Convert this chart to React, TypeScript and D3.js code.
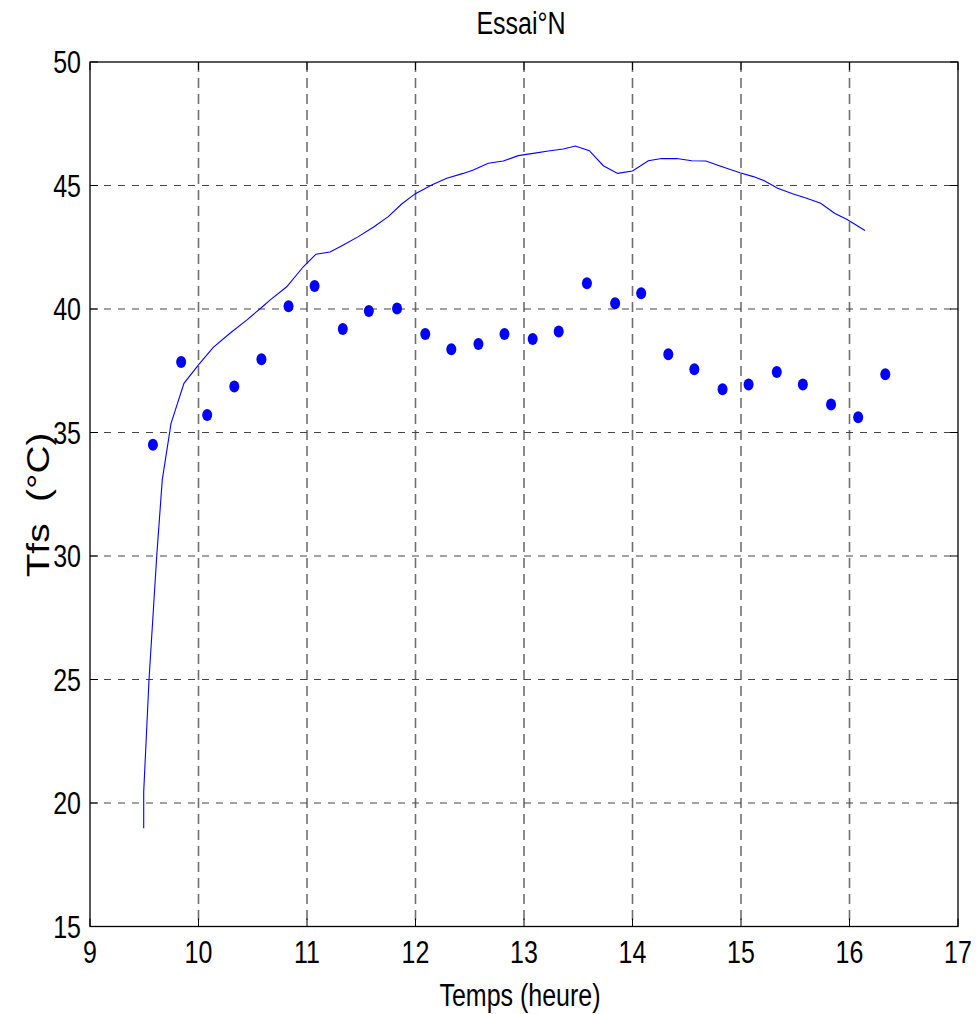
import * as d3 from 'd3';
import React, { useEffect, useRef } from 'react';

// measured points (heure, °C)
const pointTime = [9.58, 9.84, 10.08, 10.33, 10.58, 10.83, 11.07, 11.33, 11.57, 11.83, 12.09, 12.33, 12.58, 12.82,
    13.08, 13.32, 13.58, 13.84, 14.08, 14.33, 14.57, 14.83, 15.07, 15.33, 15.57, 15.83, 16.08, 16.33];
const pointTfs = [34.5, 37.85, 35.71, 36.86, 37.97, 40.11, 40.93, 39.19, 39.92, 40.02, 38.99, 38.37, 38.58, 38.99,
    38.79, 39.09, 41.04, 40.23, 40.64, 38.17, 37.56, 36.75, 36.94, 37.45, 36.94, 36.13, 35.62, 37.36];

// simulated curve
const curveTime = [9.495, 9.495, 9.544, 9.615, 9.666, 9.747, 9.866, 9.998, 10.136, 10.29, 10.444, 10.597, 10.659,
    10.813, 10.966, 11.083, 11.212, 11.335, 11.473, 11.611, 11.749, 11.873, 11.995, 12.149, 12.288, 12.44, 12.533,
    12.671, 12.809, 12.947, 13.086, 13.224, 13.362, 13.473, 13.602, 13.731, 13.863, 14.0, 14.146, 14.269, 14.407,
    14.546, 14.677, 14.806, 14.99, 15.113, 15.215, 15.338, 15.482, 15.605, 15.734, 15.866, 15.974, 16.143];
const curveTfs = [18.98, 20.45, 25.0, 30.0, 33.08, 35.37, 36.99, 37.73, 38.45, 39.02, 39.55, 40.12, 40.36,
    40.9, 41.71, 42.22, 42.31, 42.59, 42.93, 43.31, 43.74, 44.25, 44.66, 45.02, 45.29, 45.49, 45.63,
    45.9, 45.99, 46.21, 46.3, 46.4, 46.48, 46.6, 46.41, 45.8, 45.49, 45.59, 46.0, 46.09, 46.09,
    46.0, 45.99, 45.79, 45.52, 45.36, 45.19, 44.89, 44.66, 44.48, 44.28, 43.87, 43.63, 43.18];

const xTicks = [9, 10, 11, 12, 13, 14, 15, 16, 17];
const yTicks = [15, 20, 25, 30, 35, 40, 45, 50];

const titleText = 'Essai°N';
const xLabel = 'Temps (heure)';
const yLabel = 'Tfs  (°C)';

function App() {
    const ref = useRef(null);

    useEffect(() => {
        const svg = d3.select(ref.current);
        svg.selectAll('*').remove();

        const left = 90, right = 958, top = 62, bottom = 926.5;
        const font = '"Liberation Sans", Arial, sans-serif';
        const fs = 25, sy = 1.25;

        const x = d3.scaleLinear().domain([9, 17]).range([left, right]);
        const y = d3.scaleLinear().domain([15, 50]).range([bottom, top]);

        svg.append('rect')
            .attr('width', 976).attr('height', 1014).attr('fill', '#fff');

        // grid
        svg.append('g').selectAll('line')
            .data(xTicks.slice(1, -1))
            .join('line')
            .attr('x1', d => x(d)).attr('x2', d => x(d))
            .attr('y1', top).attr('y2', bottom)
            .attr('stroke', '#6f6f6f').attr('stroke-width', 1.6)
            .attr('stroke-dasharray', '10,6');

        svg.append('g').selectAll('line')
            .data(yTicks.slice(1, -1))
            .join('line')
            .attr('x1', left).attr('x2', right)
            .attr('y1', d => y(d)).attr('y2', d => y(d))
            .attr('stroke', '#444').attr('stroke-width', 1)
            .attr('stroke-dasharray', '7,7');

        // inward ticks on all four sides
        const tl = 8;
        const ticks = svg.append('g').attr('stroke', '#000').attr('stroke-width', 1);
        xTicks.forEach(t => {
            ticks.append('line').attr('x1', x(t)).attr('x2', x(t)).attr('y1', bottom).attr('y2', bottom - tl);
            ticks.append('line').attr('x1', x(t)).attr('x2', x(t)).attr('y1', top).attr('y2', top + tl);
        });
        yTicks.forEach(t => {
            ticks.append('line').attr('x1', left).attr('x2', left + tl).attr('y1', y(t)).attr('y2', y(t));
            ticks.append('line').attr('x1', right).attr('x2', right - tl).attr('y1', y(t)).attr('y2', y(t));
        });

        // frame
        svg.append('rect')
            .attr('x', left).attr('y', top)
            .attr('width', right - left).attr('height', bottom - top)
            .attr('fill', 'none').attr('stroke', '#000').attr('stroke-width', 1.3);

        // curve
        const curve = curveTime.map((t, i) => [t, curveTfs[i]]);
        svg.append('path')
            .datum(curve)
            .attr('fill', 'none')
            .attr('stroke', '#0000ff')
            .attr('stroke-width', 1.1)
            .attr('d', d3.line().x(d => x(d[0])).y(d => y(d[1])));

        // points
        svg.append('g').selectAll('ellipse')
            .data(pointTime.map((t, i) => [t, pointTfs[i]]))
            .join('ellipse')
            .attr('cx', d => x(d[0])).attr('cy', d => y(d[1]))
            .attr('rx', 5).attr('ry', 6)
            .attr('fill', '#0000ff');

        // tick labels
        const lab = svg.append('g')
            .attr('font-family', font).attr('font-size', fs).attr('fill', '#000');
        xTicks.forEach(t => {
            lab.append('text')
                .attr('transform', `translate(${x(t)},963) scale(1,${sy})`)
                .attr('text-anchor', 'middle')
                .text(t);
        });
        yTicks.forEach(t => {
            lab.append('text')
                .attr('transform', `translate(81,${y(t) + 11}) scale(1,${sy})`)
                .attr('text-anchor', 'end')
                .text(t);
        });

        // title and axis labels
        lab.append('text')
            .attr('transform', `translate(521,34) scale(1,${sy})`)
            .attr('text-anchor', 'middle')
            .text(titleText);
        lab.append('text')
            .attr('transform', `translate(520,1006) scale(1,${sy})`)
            .attr('text-anchor', 'middle')
            .text(xLabel);
        lab.append('text')
            .attr('transform', `translate(49,505) rotate(-90) scale(${sy},1)`)
            .attr('text-anchor', 'middle')
            .attr('font-size', 31)
            .style('white-space', 'pre')
            .text(yLabel);
    }, []);

    return (
        <svg ref={ref} width={976} height={1014}
            style={{ position: 'absolute', left: 0, top: 0, display: 'block' }}></svg>
    );
}

export default App;
